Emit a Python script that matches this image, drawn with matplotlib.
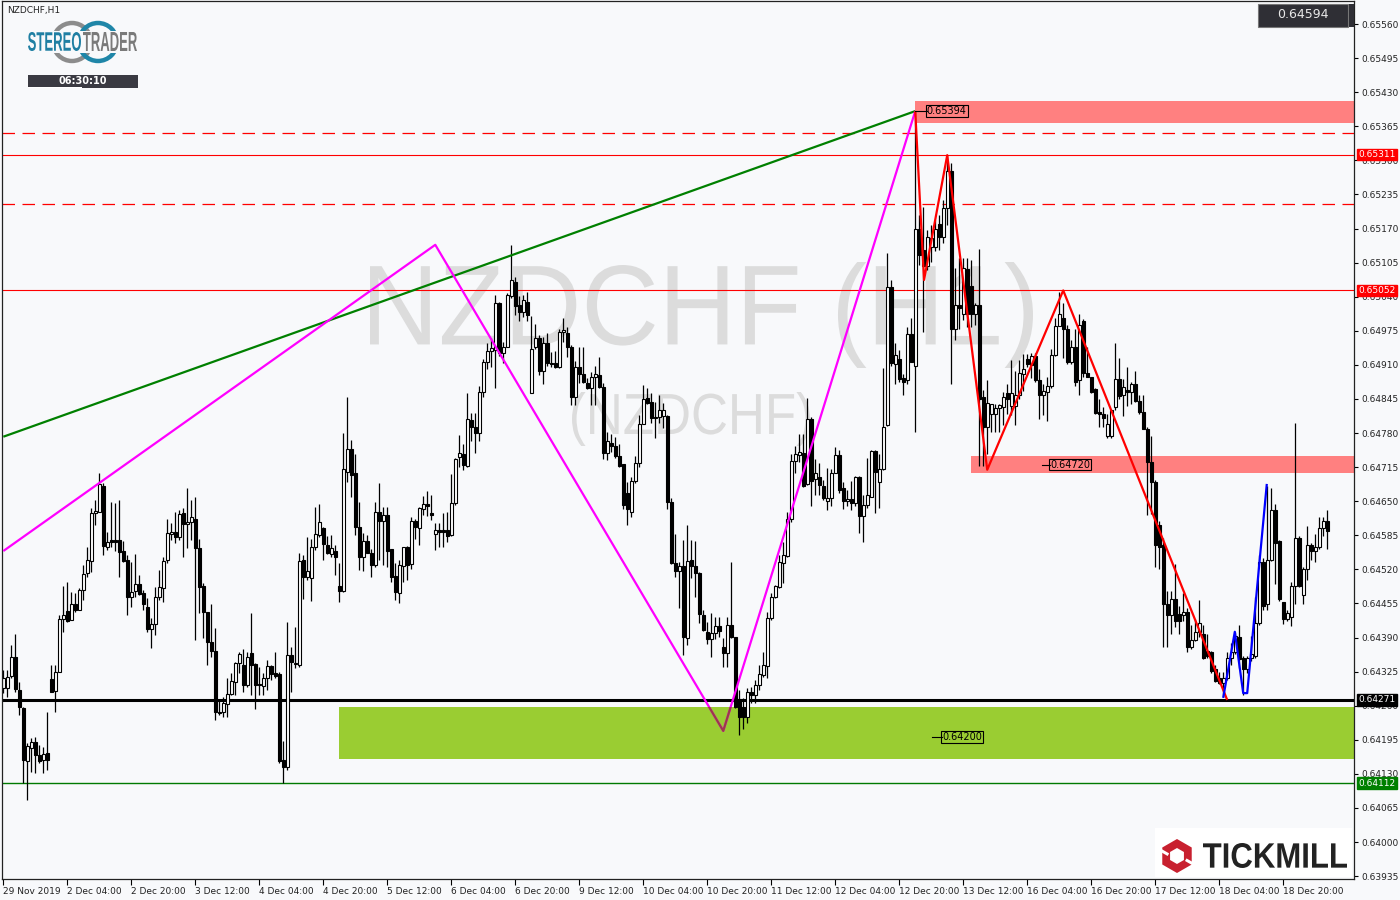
import numpy as np
import matplotlib
matplotlib.use("Agg")
import matplotlib.pyplot as plt
from matplotlib.patches import Rectangle, PathPatch, Circle, RegularPolygon
from matplotlib.textpath import TextPath
from matplotlib.font_manager import FontProperties
from matplotlib.transforms import Affine2D, IdentityTransform

# NZDCHF H1 candles, prices in units of 0.00001
opens = [64294, 64294, 64317, 64353, 64290, 64256, 64154, 64179, 64191, 64166, 64156, 64170,
         64311, 64288, 64324, 64425, 64440, 64423, 64454, 64442, 64481, 64513, 64536, 64628,
         64629, 64679, 64563, 64576, 64576, 64576, 64555, 64538, 64467, 64479, 64492, 64475,
         64448, 64406, 64416, 64467, 64485, 64538, 64588, 64591, 64582, 64628, 64607, 64610,
         64616, 64561, 64488, 64439, 64382, 64364, 64248, 64248, 64263, 64282, 64305, 64342,
         64338, 64300, 64361, 64340, 64301, 64298, 64313, 64336, 64322, 64320, 64156, 64143,
         64357, 64340, 64338, 64538, 64505, 64503, 64563, 64586, 64599, 64567, 64549, 64555,
         64488, 64479, 64706, 64750, 64704, 64601, 64544, 64574, 64551, 64528, 64629, 64612,
         64624, 64559, 64507, 64475, 64526, 64563, 64530, 64612, 64599, 64635, 64645, 64628,
         64588, 64595, 64595, 64595, 64586, 64647, 64734, 64740, 64717, 64805, 64791, 64780,
         64858, 64916, 64937, 64938, 65028, 64933, 64944, 65041, 65068, 65024, 65011, 65030,
         64856, 64944, 64961, 64898, 64952, 64914, 64914, 64906, 64973, 64971, 64944, 64849,
         64906, 64893, 64876, 64866, 64887, 64891, 64868, 64742, 64761, 64755, 64736, 64721,
         64666, 64629, 64689, 64723, 64797, 64847, 64839, 64811, 64811, 64812, 64812, 64649,
         64532, 64517, 64527, 64389, 64538, 64527, 64513, 64433, 64401, 64387, 64399, 64412,
         64372, 64361, 64414, 64391, 64273, 64258, 64239, 64286, 64280, 64300, 64318, 64336,
         64427, 64467, 64486, 64532, 64545, 64616, 64727, 64738, 64742, 64683, 64807, 64692,
         64696, 64679, 64650, 64656, 64704, 64738, 64675, 64650, 64654, 64647, 64696, 64622,
         64643, 64658, 64746, 64687, 64711, 64795, 65059, 64912, 64921, 64885, 64881, 64969,
         64908, 65169, 65129, 65099, 65135, 65135, 65179, 65154, 65209, 65280, 64979, 65024,
         65007, 65093, 65060, 65007, 65024, 64849, 64791, 64816, 64816, 64828, 64830, 64856,
         64832, 64832, 64853, 64893, 64921, 64910, 64927, 64881, 64853, 64858, 64870, 64929,
         64984, 64999, 64979, 64916, 64944, 64881, 64994, 64895, 64887, 64864, 64820, 64816,
         64774, 64774, 64830, 64883, 64853, 64862, 64858, 64874, 64841, 64820, 64788, 64725,
         64687, 64605, 64567, 64454, 64433, 64463, 64435, 64433, 64439, 64372, 64385, 64401,
         64397, 64364, 64362, 64330, 64313, 64303, 64313, 64351, 64362, 64391, 64351, 64330,
         64351, 64355, 64418, 64534, 64454, 64538, 64633, 64574, 64458, 64425, 64429, 64488,
         64580, 64471, 64521, 64567, 64555, 64563, 64599, 64612]
highs = [64328, 64328, 64376, 64397, 64305, 64258, 64189, 64198, 64200, 64185, 64181, 64248,
         64338, 64338, 64433, 64488, 64496, 64477, 64475, 64484, 64528, 64563, 64637, 64652,
         64704, 64685, 64591, 64649, 64647, 64652, 64574, 64547, 64534, 64549, 64509, 64481,
         64465, 64427, 64486, 64519, 64544, 64616, 64609, 64629, 64633, 64637, 64675, 64652,
         64658, 64578, 64494, 64439, 64454, 64408, 64271, 64277, 64313, 64322, 64343, 64362,
         64368, 64362, 64437, 64342, 64334, 64322, 64347, 64338, 64362, 64324, 64193, 64420,
         64372, 64410, 64551, 64547, 64582, 64578, 64639, 64644, 64601, 64584, 64586, 64567,
         64532, 64780, 64849, 64767, 64740, 64649, 64590, 64586, 64559, 64649, 64685, 64639,
         64639, 64559, 64532, 64538, 64563, 64565, 64620, 64616, 64639, 64660, 64670, 64662,
         64609, 64609, 64628, 64629, 64702, 64732, 64777, 64759, 64856, 64818, 64818, 64870,
         64921, 64952, 64961, 65043, 65030, 64954, 65047, 65139, 65078, 65041, 65043, 65049,
         65003, 64988, 64967, 64963, 64971, 64935, 64937, 64979, 64999, 64982, 64948, 64917,
         64944, 64944, 64885, 64897, 64908, 64925, 64876, 64782, 64778, 64773, 64759, 64721,
         64687, 64696, 64736, 64814, 64872, 64866, 64856, 64839, 64852, 64837, 64814, 64656,
         64588, 64534, 64576, 64605, 64576, 64574, 64515, 64442, 64420, 64437, 64429, 64429,
         64389, 64429, 64534, 64391, 64290, 64275, 64294, 64296, 64309, 64338, 64362, 64439,
         64475, 64490, 64547, 64572, 64629, 64740, 64755, 64778, 64778, 64847, 64811, 64731,
         64723, 64691, 64713, 64711, 64753, 64748, 64687, 64671, 64689, 64698, 64698, 64662,
         64732, 64748, 64748, 64740, 64904, 65123, 65072, 64952, 64938, 64893, 64982, 64999,
         65394, 65196, 65211, 65167, 65177, 65186, 65196, 65225, 65310, 65295, 65095, 65114,
         65114, 65114, 65110, 65028, 65131, 64862, 64881, 64835, 64835, 64835, 64858, 64874,
         64919, 64898, 64919, 64931, 64931, 64933, 64933, 64902, 64874, 64887, 64940, 64999,
         65049, 65028, 64986, 64958, 64979, 65007, 64998, 64944, 64887, 64866, 64845, 64830,
         64816, 64824, 64952, 64923, 64883, 64906, 64877, 64898, 64853, 64853, 64791, 64774,
         64691, 64612, 64580, 64479, 64479, 64530, 64450, 64475, 64446, 64414, 64425, 64462,
         64414, 64397, 64364, 64338, 64324, 64324, 64362, 64380, 64401, 64414, 64355, 64355,
         64393, 64467, 64547, 64542, 64679, 64675, 64645, 64576, 64458, 64442, 64496, 64799,
         64584, 64525, 64603, 64570, 64588, 64620, 64620, 64633]
lows = [64284, 64277, 64313, 64286, 64242, 64113, 64080, 64134, 64132, 64151, 64132, 64137,
        64286, 64248, 64324, 64401, 64420, 64423, 64439, 64442, 64462, 64505, 64515, 64605,
        64629, 64548, 64557, 64563, 64555, 64505, 64534, 64433, 64448, 64467, 64471, 64442,
        64401, 64370, 64395, 64462, 64458, 64532, 64576, 64570, 64576, 64543, 64561, 64576,
        64385, 64437, 64389, 64338, 64353, 64233, 64242, 64239, 64239, 64280, 64280, 64322,
        64286, 64296, 64280, 64254, 64280, 64280, 64290, 64309, 64313, 64151, 64113, 64137,
        64286, 64332, 64334, 64463, 64500, 64460, 64557, 64582, 64538, 64549, 64544, 64509,
        64458, 64477, 64687, 64658, 64586, 64519, 64517, 64551, 64505, 64525, 64538, 64528,
        64525, 64496, 64462, 64456, 64496, 64500, 64521, 64578, 64567, 64624, 64622, 64614,
        64557, 64563, 64563, 64572, 64584, 64643, 64715, 64709, 64715, 64765, 64742, 64765,
        64849, 64902, 64906, 64866, 64927, 64914, 64944, 65038, 65005, 64994, 65001, 64994,
        64856, 64940, 64891, 64874, 64908, 64906, 64904, 64904, 64954, 64925, 64834, 64834,
        64876, 64876, 64864, 64834, 64834, 64866, 64731, 64729, 64744, 64732, 64715, 64635,
        64605, 64620, 64685, 64715, 64797, 64835, 64799, 64771, 64799, 64790, 64635, 64530,
        64505, 64446, 64357, 64376, 64504, 64467, 64418, 64403, 64378, 64353, 64387, 64391,
        64334, 64334, 64389, 64256, 64204, 64216, 64227, 64265, 64265, 64290, 64315, 64313,
        64423, 64465, 64484, 64494, 64544, 64610, 64704, 64725, 64677, 64681, 64641, 64662,
        64662, 64652, 64633, 64641, 64704, 64666, 64635, 64641, 64633, 64641, 64590, 64572,
        64637, 64658, 64628, 64637, 64710, 64794, 64908, 64874, 64878, 64853, 64874, 64916,
        64782, 65101, 64973, 65091, 65106, 65127, 65129, 65143, 65177, 64874, 64958, 64979,
        64996, 64982, 64982, 64986, 64717, 64717, 64740, 64782, 64782, 64782, 64795, 64816,
        64815, 64795, 64845, 64860, 64906, 64885, 64878, 64807, 64815, 64803, 64866, 64927,
        64984, 64923, 64912, 64912, 64870, 64853, 64887, 64887, 64856, 64816, 64791, 64791,
        64771, 64771, 64824, 64845, 64812, 64832, 64835, 64839, 64816, 64788, 64624, 64626,
        64525, 64521, 64372, 64372, 64397, 64410, 64397, 64422, 64362, 64368, 64383, 64391,
        64349, 64351, 64322, 64305, 64301, 64276, 64309, 64338, 64359, 64332, 64280, 64322,
        64345, 64351, 64414, 64442, 64442, 64536, 64492, 64460, 64416, 64422, 64412, 64454,
        64486, 64454, 64500, 64538, 64534, 64559, 64584, 64559]
closes = [64313, 64315, 64353, 64292, 64258, 64156, 64183, 64191, 64166, 64154, 64168, 64156,
          64286, 64324, 64425, 64433, 64422, 64454, 64442, 64481, 64511, 64538, 64628, 64631,
          64683, 64565, 64572, 64572, 64572, 64553, 64536, 64467, 64477, 64492, 64473, 64454,
          64406, 64416, 64467, 64486, 64536, 64590, 64591, 64582, 64626, 64607, 64610, 64620,
          64561, 64486, 64439, 64382, 64364, 64248, 64246, 64265, 64282, 64307, 64342, 64359,
          64300, 64353, 64338, 64300, 64300, 64313, 64336, 64320, 64317, 64154, 64143, 64357,
          64343, 64342, 64536, 64505, 64517, 64563, 64588, 64610, 64568, 64551, 64561, 64543,
          64479, 64712, 64750, 64700, 64601, 64544, 64574, 64551, 64528, 64629, 64612, 64624,
          64555, 64505, 64477, 64528, 64563, 64528, 64612, 64601, 64637, 64645, 64641, 64624,
          64595, 64591, 64591, 64584, 64647, 64730, 64742, 64719, 64807, 64791, 64780, 64858,
          64916, 64937, 64942, 65028, 64933, 64944, 65043, 65072, 65022, 65011, 65034, 65005,
          64940, 64961, 64898, 64952, 64914, 64912, 64906, 64973, 64977, 64944, 64849, 64906,
          64893, 64878, 64866, 64887, 64893, 64868, 64742, 64765, 64755, 64736, 64717, 64643,
          64635, 64689, 64723, 64797, 64845, 64837, 64809, 64809, 64824, 64824, 64649, 64532,
          64517, 64527, 64391, 64536, 64527, 64513, 64435, 64404, 64387, 64399, 64412, 64403,
          64361, 64414, 64391, 64258, 64239, 64239, 64286, 64280, 64300, 64320, 64338, 64427,
          64467, 64488, 64534, 64547, 64616, 64727, 64740, 64744, 64679, 64807, 64689, 64704,
          64681, 64656, 64656, 64704, 64738, 64672, 64650, 64654, 64647, 64696, 64622, 64643,
          64662, 64746, 64706, 64711, 64792, 65059, 64914, 64929, 64883, 64878, 64969, 64916,
          65169, 65120, 65099, 65154, 65152, 65169, 65154, 65209, 65280, 64979, 65024, 65019,
          65095, 65007, 65007, 65024, 64845, 64791, 64837, 64835, 64828, 64833, 64849, 64845,
          64856, 64853, 64895, 64902, 64912, 64927, 64881, 64853, 64860, 64870, 64929, 64984,
          65007, 64979, 64916, 64944, 64878, 64986, 64895, 64887, 64858, 64818, 64816, 64809,
          64797, 64824, 64883, 64851, 64868, 64858, 64874, 64841, 64820, 64788, 64725, 64687,
          64567, 64563, 64454, 64433, 64463, 64422, 64422, 64439, 64372, 64385, 64401, 64418,
          64351, 64355, 64326, 64307, 64303, 64313, 64351, 64362, 64393, 64349, 64330, 64351,
          64359, 64418, 64534, 64450, 64538, 64633, 64570, 64463, 64425, 64437, 64488, 64580,
          64488, 64521, 64567, 64555, 64563, 64599, 64612, 64594]

date_labels = ["29 Nov 2019", "2 Dec 04:00", "2 Dec 20:00", "3 Dec 12:00", "4 Dec 04:00",
               "4 Dec 20:00", "5 Dec 12:00", "6 Dec 04:00", "6 Dec 20:00", "9 Dec 12:00",
               "10 Dec 04:00", "10 Dec 20:00", "11 Dec 12:00", "12 Dec 04:00", "12 Dec 20:00",
               "13 Dec 12:00", "16 Dec 04:00", "16 Dec 20:00", "17 Dec 12:00", "18 Dec 04:00",
               "18 Dec 20:00"]
date_bars = list(range(0, 321, 16))

# drawn objects: (bar, price)
green_trend = [(0, 0.64773), (228, 0.65394)]
magenta_zz = [(0, 0.64555), (108, 0.65139), (180, 0.64212), (228, 0.65394)]
red_zz = [(228, 0.65394), (230.2, 0.65072), (236, 0.65310), (246, 0.64710), (265, 0.65052), (306, 0.64271)]
blue_zz = [(305, 0.64275), (307.9, 0.64401), (310, 0.64284), (311, 0.64284), (315.9, 0.64683)]

red_lines = [0.65311, 0.65052]
red_dashed = [0.65352, 0.65217]
support = 0.64271
low_line = 0.64112
zone_top = (228, 0.65371, 0.65413)
zone_mid = (241.9, 0.64704, 0.64736)
zone_green = (83.9, 0.64159, 0.64258)
last_price = 0.64594

BG = "#f8f9fb"
o = np.array(opens) / 1e5
h = np.array(highs) / 1e5
l = np.array(lows) / 1e5
c = np.array(closes) / 1e5
x = np.arange(len(o))

fig = plt.figure(figsize=(14, 9), dpi=100, facecolor=BG)
ax = fig.add_axes([2 / 1400, 21 / 900, 1352 / 1400, 878 / 900], facecolor=BG)
XMAX = 337.7
ax.set_xlim(-0.33, XMAX)
ax.set_ylim(0.639295, 0.65604)


def fit_text(s, x0, y0, x1, y1, color, weight="normal", z=0.5, target=ax):
    # draw text stretched to a pixel box (top-left origin)
    tp = TextPath((0, 0), s, size=100, prop=FontProperties(family="Liberation Sans", weight=weight))
    bb = tp.get_extents()
    tr = Affine2D().translate(-bb.x0, -bb.y0).scale((x1 - x0) / bb.width, (y1 - y0) / bb.height)
    tr = tr.translate(x0, 900 - y1)
    p = PathPatch(tr.transform_path(tp), facecolor=color, lw=0, transform=IdentityTransform(),
                  zorder=z, clip_on=False)
    target.add_artist(p) if target is fig else target.add_patch(p)


# watermark
fit_text("NZDCHF (H1)", 370, 262, 1033, 368, "#dcdcdc", z=0.3)
fit_text("(NZDCHF)", 572, 392, 810, 446, "#dcdcdc", z=0.3)

# zones
for x0, p0, p1 in [zone_top, zone_mid]:
    ax.add_patch(Rectangle((x0, p0), XMAX - x0, p1 - p0, facecolor="#ff8080", lw=0, zorder=1))
gx, g0, g1 = zone_green
green_rect = Rectangle((gx, g0), XMAX - gx, g1 - g0, facecolor="#9acd32", lw=0, zorder=1)
ax.add_patch(green_rect)

# horizontal levels
for p in red_lines:
    ax.axhline(p, color="red", lw=0.8, zorder=1.5)
for p in red_dashed:
    ax.axhline(p, color="red", lw=0.9, ls=(0, (10, 6)), zorder=1.5)
ax.axhline(support, color="black", lw=2.2, zorder=1.5)
ax.axhline(low_line, color="#007a00", lw=1.0, zorder=1.5)

# candles
up = c >= o
ax.vlines(x, l, h, color="black", lw=0.9, zorder=2)
ax.bar(x[up], (c - o)[up], bottom=o[up], width=0.66, facecolor="white", edgecolor="black", lw=0.8, zorder=2.5)
ax.bar(x[~up], (o - c)[~up], bottom=c[~up], width=0.66, facecolor="black", edgecolor="black", lw=0.8, zorder=2.5)

# drawn lines
for pts, col in [(green_trend, "#008000"), (magenta_zz, "#ff00ff"), (red_zz, "#ff0000"), (blue_zz, "#0000ff")]:
    xs, ys = zip(*pts)
    ax.plot(xs, ys, color=col, lw=1.6, zorder=3, solid_capstyle="butt")
xs, ys = zip(*magenta_zz)
brown, = ax.plot(xs, ys, color="#9b3b4a", lw=1.6, zorder=3.1)
brown.set_clip_path(green_rect)

# object labels
for (x0, x1, p, s) in [(228, 230.9, 0.65394, "0.65394"), (259.7, 261.7, 0.64720, "0.64720"),
                       (232.2, 234.7, 0.64200, "0.64200")]:
    ax.plot([x0, x1], [p, p], color="black", lw=0.8, zorder=3.5)
    ax.text(x1, p, s, fontsize=7, va="center", ha="left", zorder=4,
            bbox=dict(boxstyle="square,pad=0.1", facecolor="none", edgecolor="black", lw=0.8))

# axes styling
for side in ["left", "right", "bottom", "top"]:
    ax.spines[side].set_color("#222222")
    ax.spines[side].set_linewidth(0.9)
ax.yaxis.tick_right()
yt = np.round(0.63935 + 0.00065 * np.arange(26), 5)
ax.set_yticks(yt)
ax.set_yticklabels(["%.5f" % v for v in yt], fontsize=6.5, color="#222222")
ax.tick_params(axis="y", direction="out", length=3, width=0.8, pad=2)
ax.set_xticks(date_bars)
ax.set_xticklabels(date_labels, fontsize=6.5, ha="left", color="#222222")
ax.tick_params(axis="x", direction="out", length=4, width=0.8, pad=2)

# price tags on the axis
for p, fc, txt in [(0.65311, "red", "white"), (0.65052, "red", "white"),
                   (0.64271, "black", "white"), (0.64112, "#008000", "white")]:
    ax.annotate("%.5f" % p, xy=(1, p), xycoords=("axes fraction", "data"), xytext=(3, 0),
                textcoords="offset points", fontsize=6.5, color=txt, va="center", ha="left",
                annotation_clip=False, zorder=6,
                bbox=dict(boxstyle="square,pad=0.15", facecolor=fc, edgecolor=fc))

# header text / current price box
fig.text(7 / 1400, 1 - 10 / 900, "NZDCHF,H1", fontsize=6.5, va="center", ha="left", color="#222222")
fig.add_artist(Rectangle((1258 / 1400, 1 - 27 / 900), 90 / 1400, 23 / 900, transform=fig.transFigure,
                         facecolor="#2f2f35", edgecolor="#777777", lw=0.8, zorder=5))
fig.add_artist(Rectangle((1349 / 1400, 1 - 27 / 900), 5 / 1400, 23 / 900, transform=fig.transFigure,
                         facecolor="#2f2f35", edgecolor="none", zorder=5))
fig.text(1303 / 1400, 1 - 15 / 900, "%.5f" % last_price, fontsize=9, color="#e8e8e8",
         va="center", ha="center", zorder=6)

# StereoTrader logo
fig.add_artist(Circle((72, 900 - 42), 19, transform=IdentityTransform(), facecolor="none",
                      edgecolor="#8c8c8c", lw=3.2, zorder=4))
fig.add_artist(Circle((98, 900 - 42), 19, transform=IdentityTransform(), facecolor="none",
                      edgecolor="#1f86a8", lw=3.2, zorder=4))
fig.add_artist(Rectangle((26, 900 - 53), 114, 22, transform=IdentityTransform(), facecolor=BG,
                         edgecolor="none", zorder=4.1))
fit_text("STEREO", 28, 32, 81, 51, "#1f7fa3", weight="bold", z=4.5, target=fig)
fit_text("TRADER", 83, 32, 137, 51, "#7a7a7a", weight="bold", z=4.5, target=fig)
fig.add_artist(Rectangle((28, 900 - 88), 110, 13, transform=IdentityTransform(), facecolor="#3a3a42",
                         edgecolor="none", zorder=4))
fig.add_artist(Rectangle((28, 900 - 88), 54, 1.2, transform=IdentityTransform(), facecolor="white",
                         edgecolor="none", zorder=4.2))
fig.text(83 / 1400, 1 - 81 / 900, "06:30:10", fontsize=7, weight="bold", color="white",
         va="center", ha="center", zorder=5)

# Tickmill logo
fig.add_artist(Rectangle((1155, 900 - 877), 197, 49, transform=IdentityTransform(), facecolor="white",
                         edgecolor="none", zorder=4))
fig.add_artist(RegularPolygon((1177, 900 - 856), 6, radius=17, orientation=0, transform=IdentityTransform(),
                              facecolor="#c8202f", edgecolor="none", zorder=4.2))
fig.add_artist(RegularPolygon((1177, 900 - 856), 6, radius=8, orientation=0, transform=IdentityTransform(),
                              facecolor="white", edgecolor="none", zorder=4.3))
fig.add_artist(Rectangle((1159, 900 - 851), 10, 3, angle=-30, transform=IdentityTransform(),
                         facecolor="white", edgecolor="none", zorder=4.4))
fig.add_artist(Rectangle((1185, 900 - 861), 10, 3, angle=-30, transform=IdentityTransform(),
                         facecolor="white", edgecolor="none", zorder=4.4))
fit_text("TICKMILL", 1203, 843, 1347, 868, "#222222", weight="bold", z=4.5, target=fig)

fig.savefig("out.png", dpi=100, facecolor=BG)
